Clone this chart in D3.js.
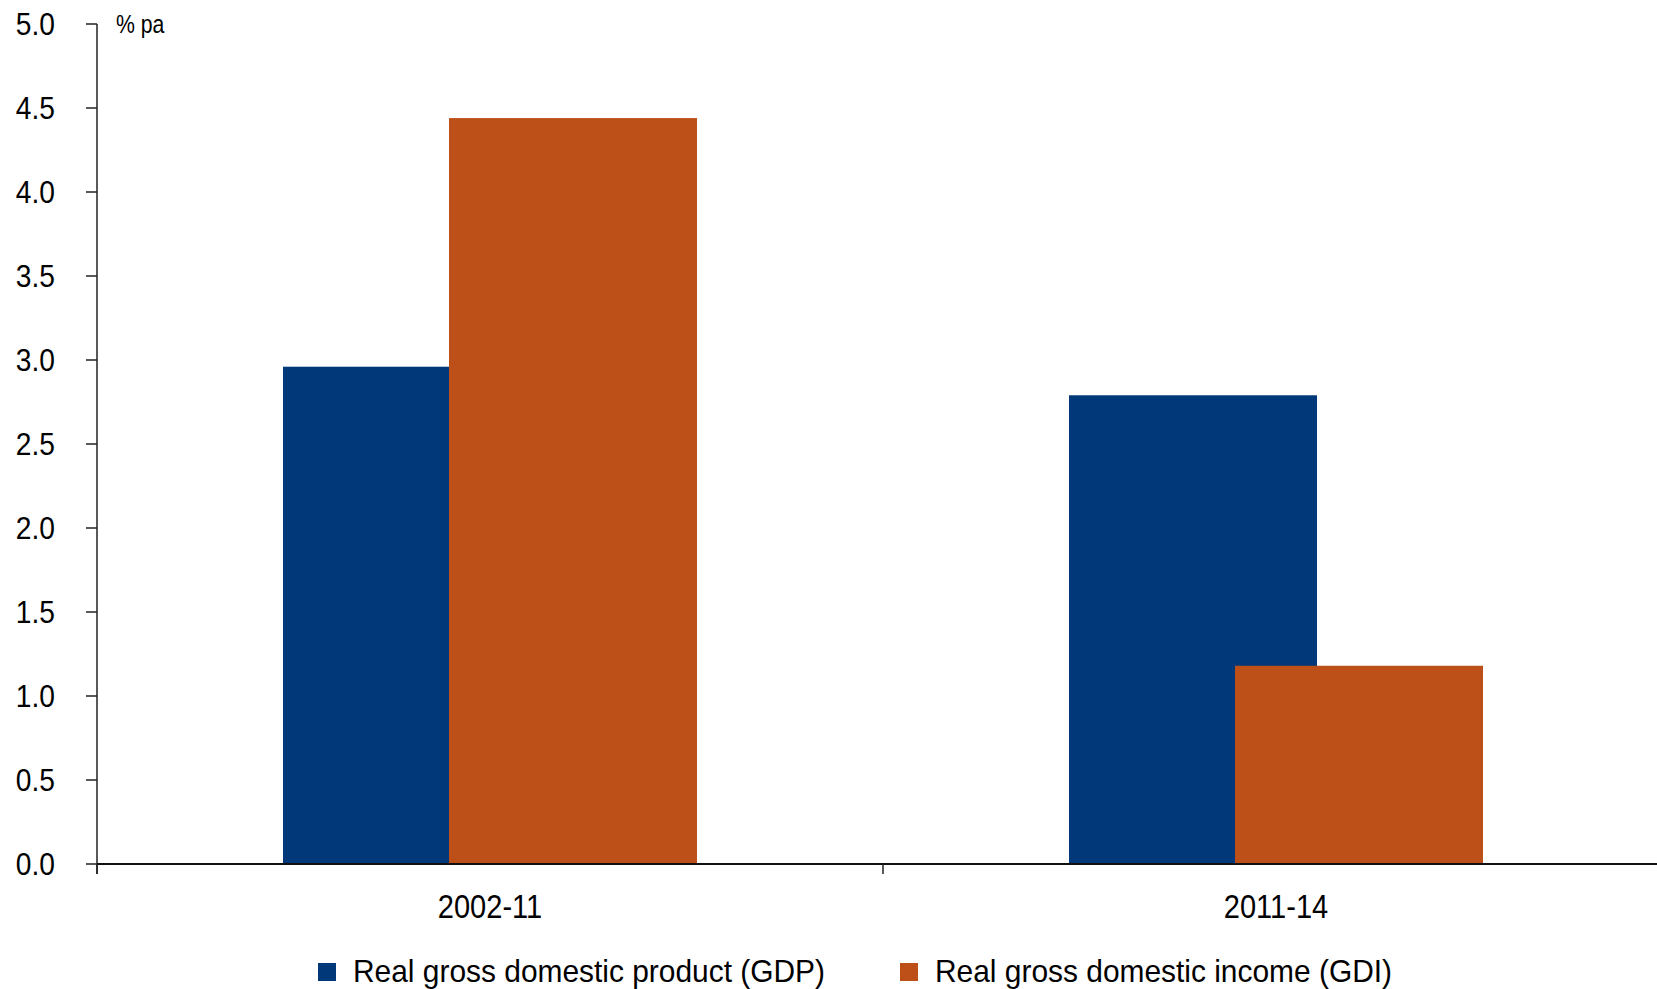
<!DOCTYPE html>
<html>
<head>
<meta charset="utf-8">
<script src="https://cdn.jsdelivr.net/npm/d3@7.9.0/dist/d3.min.js"></script>
<style>
  html, body { margin: 0; padding: 0; background: #fff; }
  svg { display: block; font-family: "Liberation Sans", Arial, sans-serif; }
</style>
</head>
<body>
<svg id="chart" width="1657" height="989"></svg>
<script>
const periods   = ["2002-11", "2011-14"];
const series    = ["Real gross domestic product (GDP)", "Real gross domestic income (GDI)"];
const gdpValues = [2.96, 2.79];
const gdiValues = [4.44, 1.18];
const yTicks    = [0, 0.5, 1, 1.5, 2, 2.5, 3, 3.5, 4, 4.5, 5];
const colors    = ["#00387a", "#bd5019"];

const svg = d3.select("#chart");
const width = 1657;

const plotLeft = 97, plotTop = 24, plotBottom = 864;

const x = d3.scaleBand().domain(periods).range([plotLeft, plotLeft + 2 * 786]);
const bw = x.bandwidth();
// bars overlap: second series shifted by 166px, each bar 248px wide
const x1 = d3.scaleBand().domain(series).range([0, 332]);
const barW = 248;
const groupOffset = (bw - (x1.bandwidth() + barW)) / 2;

const y = d3.scaleLinear().domain([0, 5]).range([plotBottom, plotTop]);

const rows = periods.map((p, i) => ({ period: p, values: [gdpValues[i], gdiValues[i]] }));

// bars
const groups = svg.append("g").selectAll("g")
  .data(rows)
  .enter().append("g")
  .attr("transform", d => `translate(${x(d.period) + groupOffset},0)`);

groups.selectAll("rect")
  .data(d => d.values.map((v, j) => ({ key: series[j], value: v, j })))
  .enter().append("rect")
  .attr("x", d => x1(d.key))
  .attr("y", d => y(d.value))
  .attr("width", barW)
  .attr("height", d => y(0) - y(d.value))
  .attr("fill", d => colors[d.j]);

// y axis
const yAxis = svg.append("g");
yAxis.append("line")
  .attr("x1", plotLeft).attr("x2", plotLeft)
  .attr("y1", plotTop).attr("y2", plotBottom + 10)
  .attr("stroke", "#222").attr("stroke-width", 1.5);

yAxis.selectAll(".tick")
  .data(yTicks)
  .enter().append("line")
  .attr("x1", plotLeft - 11).attr("x2", plotLeft)
  .attr("y1", d => y(d)).attr("y2", d => y(d))
  .attr("stroke", "#222").attr("stroke-width", 1.5);

yAxis.selectAll("text")
  .data(yTicks)
  .enter().append("text")
  .attr("transform", d => `translate(55,${y(d)}) scale(0.88,1)`)
  .attr("text-anchor", "end")
  .attr("dominant-baseline", "central")
  .attr("font-size", 32)
  .attr("fill", "#000")
  .text(d3.format(".1f"));

svg.append("text")
  .attr("transform", "translate(116,33) scale(0.85,1)")
  .attr("font-size", 25)
  .attr("fill", "#000")
  .text("% pa");

// x axis
const xAxis = svg.append("g");
xAxis.append("line")
  .attr("x1", plotLeft).attr("x2", width)
  .attr("y1", plotBottom).attr("y2", plotBottom)
  .attr("stroke", "#111").attr("stroke-width", 2);

xAxis.selectAll(".tick")
  .data(periods)
  .enter().append("line")
  .attr("x1", d => x(d)).attr("x2", d => x(d))
  .attr("y1", plotBottom).attr("y2", plotBottom + 10)
  .attr("stroke", "#222").attr("stroke-width", 1.5);

xAxis.selectAll("text")
  .data(periods)
  .enter().append("text")
  .attr("transform", d => `translate(${x(d) + bw / 2},918) scale(0.88,1)`)
  .attr("text-anchor", "middle")
  .attr("font-size", 33)
  .attr("fill", "#000")
  .text(d => d);

// legend
const legendPos = [318, 900];
const legend = svg.append("g").selectAll("g")
  .data(series)
  .enter().append("g")
  .attr("transform", (d, i) => `translate(${legendPos[i]},963)`);

legend.append("rect")
  .attr("width", 18).attr("height", 18)
  .attr("fill", (d, i) => colors[i]);

legend.append("text")
  .attr("transform", "translate(35,19) scale(0.965,1)")
  .attr("font-size", 31)
  .attr("fill", "#000")
  .text(d => d);
</script>
</body>
</html>
